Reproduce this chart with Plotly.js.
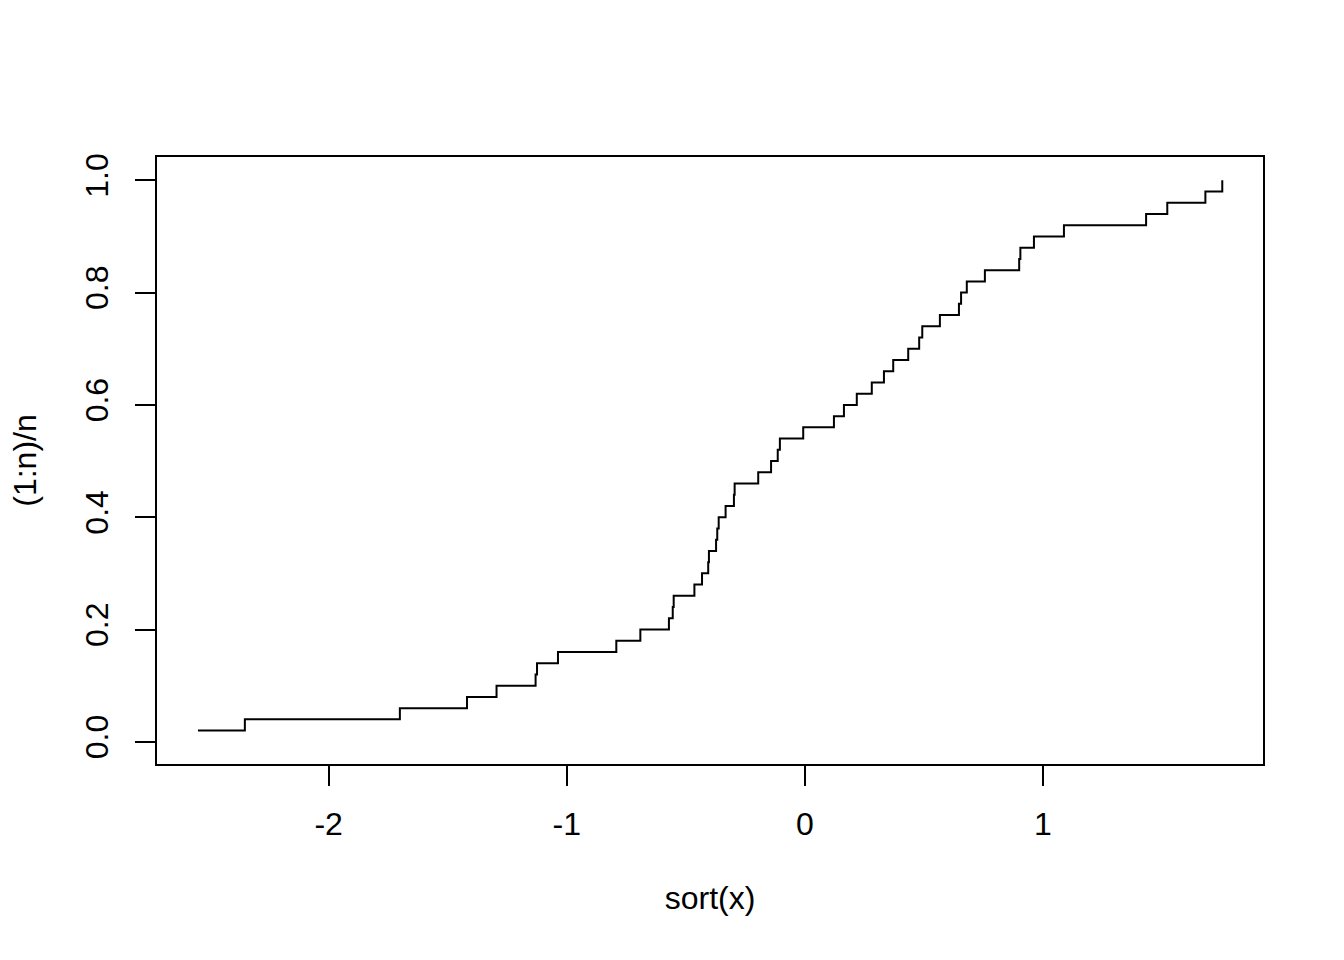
<!DOCTYPE html>
<html>
<head>
<meta charset="utf-8">
<script src="https://cdn.plot.ly/plotly-3.0.1.min.js"></script>
<style>
  html, body { margin: 0; padding: 0; background: #fff; }
  #chart { width: 1344px; height: 960px; }
</style>
</head>
<body>
<div id="chart"></div>
<script>
// sorted sample values
const sortedX = [
  -2.549, -2.352, -1.701, -1.419, -1.295, -1.131, -1.125, -1.037, -0.792, -0.691,
  -0.571, -0.555, -0.551, -0.464, -0.432, -0.406, -0.403, -0.373, -0.368, -0.362,
  -0.333, -0.298, -0.295, -0.196, -0.142, -0.114, -0.105, -0.007, 0.122, 0.164,
  0.218, 0.281, 0.332, 0.371, 0.434, 0.480, 0.493, 0.567, 0.647, 0.656,
  0.680, 0.756, 0.900, 0.905, 0.962, 1.088, 1.433, 1.522, 1.682, 1.753
];
// cumulative proportions (1:n)/n
const propY = [
  0.02, 0.04, 0.06, 0.08, 0.10, 0.12, 0.14, 0.16, 0.18, 0.20,
  0.22, 0.24, 0.26, 0.28, 0.30, 0.32, 0.34, 0.36, 0.38, 0.40,
  0.42, 0.44, 0.46, 0.48, 0.50, 0.52, 0.54, 0.56, 0.58, 0.60,
  0.62, 0.64, 0.66, 0.68, 0.70, 0.72, 0.74, 0.76, 0.78, 0.80,
  0.82, 0.84, 0.86, 0.88, 0.90, 0.92, 0.94, 0.96, 0.98, 1.00
];
const xTicks = [-2, -1, 0, 1];
const xTickText = ["-2", "-1", "0", "1"];
const yTicks = [0, 0.2, 0.4, 0.6, 0.8, 1.0];
const yTickText = ["0.0", "0.2", "0.4", "0.6", "0.8", "1.0"];

const font = { family: "Liberation Sans, Arial, Helvetica, sans-serif", size: 32, color: "#000" };

const trace = {
  x: sortedX,
  y: propY,
  type: "scatter",
  mode: "lines",
  line: { shape: "hv", color: "#000", width: 2 },
  hoverinfo: "x+y"
};

const layout = {
  width: 1344,
  height: 960,
  margin: { l: 157, r: 81, t: 157, b: 196, pad: 0 },
  paper_bgcolor: "#fff",
  plot_bgcolor: "#fff",
  showlegend: false,
  font: font,
  xaxis: {
    range: [-2.721, 1.924],
    tickmode: "array",
    tickvals: xTicks,
    ticktext: xTickText,
    ticks: "outside",
    ticklen: 20,
    tickwidth: 2,
    tickcolor: "#000",
    showline: true,
    mirror: true,
    linecolor: "#000",
    linewidth: 2,
    showgrid: false,
    zeroline: false,
    tickfont: font,
    ticklabelstandoff: 11,
    title: { text: "sort(x)", font: font, standoff: 45 },
    automargin: false
  },
  yaxis: {
    range: [-0.0395, 1.0415],
    tickmode: "array",
    tickvals: yTicks,
    ticktext: yTickText,
    ticks: "outside",
    ticklen: 20,
    tickwidth: 2,
    tickcolor: "#000",
    showline: true,
    mirror: true,
    linecolor: "#000",
    linewidth: 2,
    showgrid: false,
    zeroline: false,
    tickangle: -90,
    tickfont: font,
    ticklabelstandoff: 14,
    title: { text: "(1:n)/n", font: font, standoff: 33 },
    automargin: false
  }
};

Plotly.newPlot("chart", [trace], layout, { displayModeBar: false, staticPlot: false });
</script>
</body>
</html>
